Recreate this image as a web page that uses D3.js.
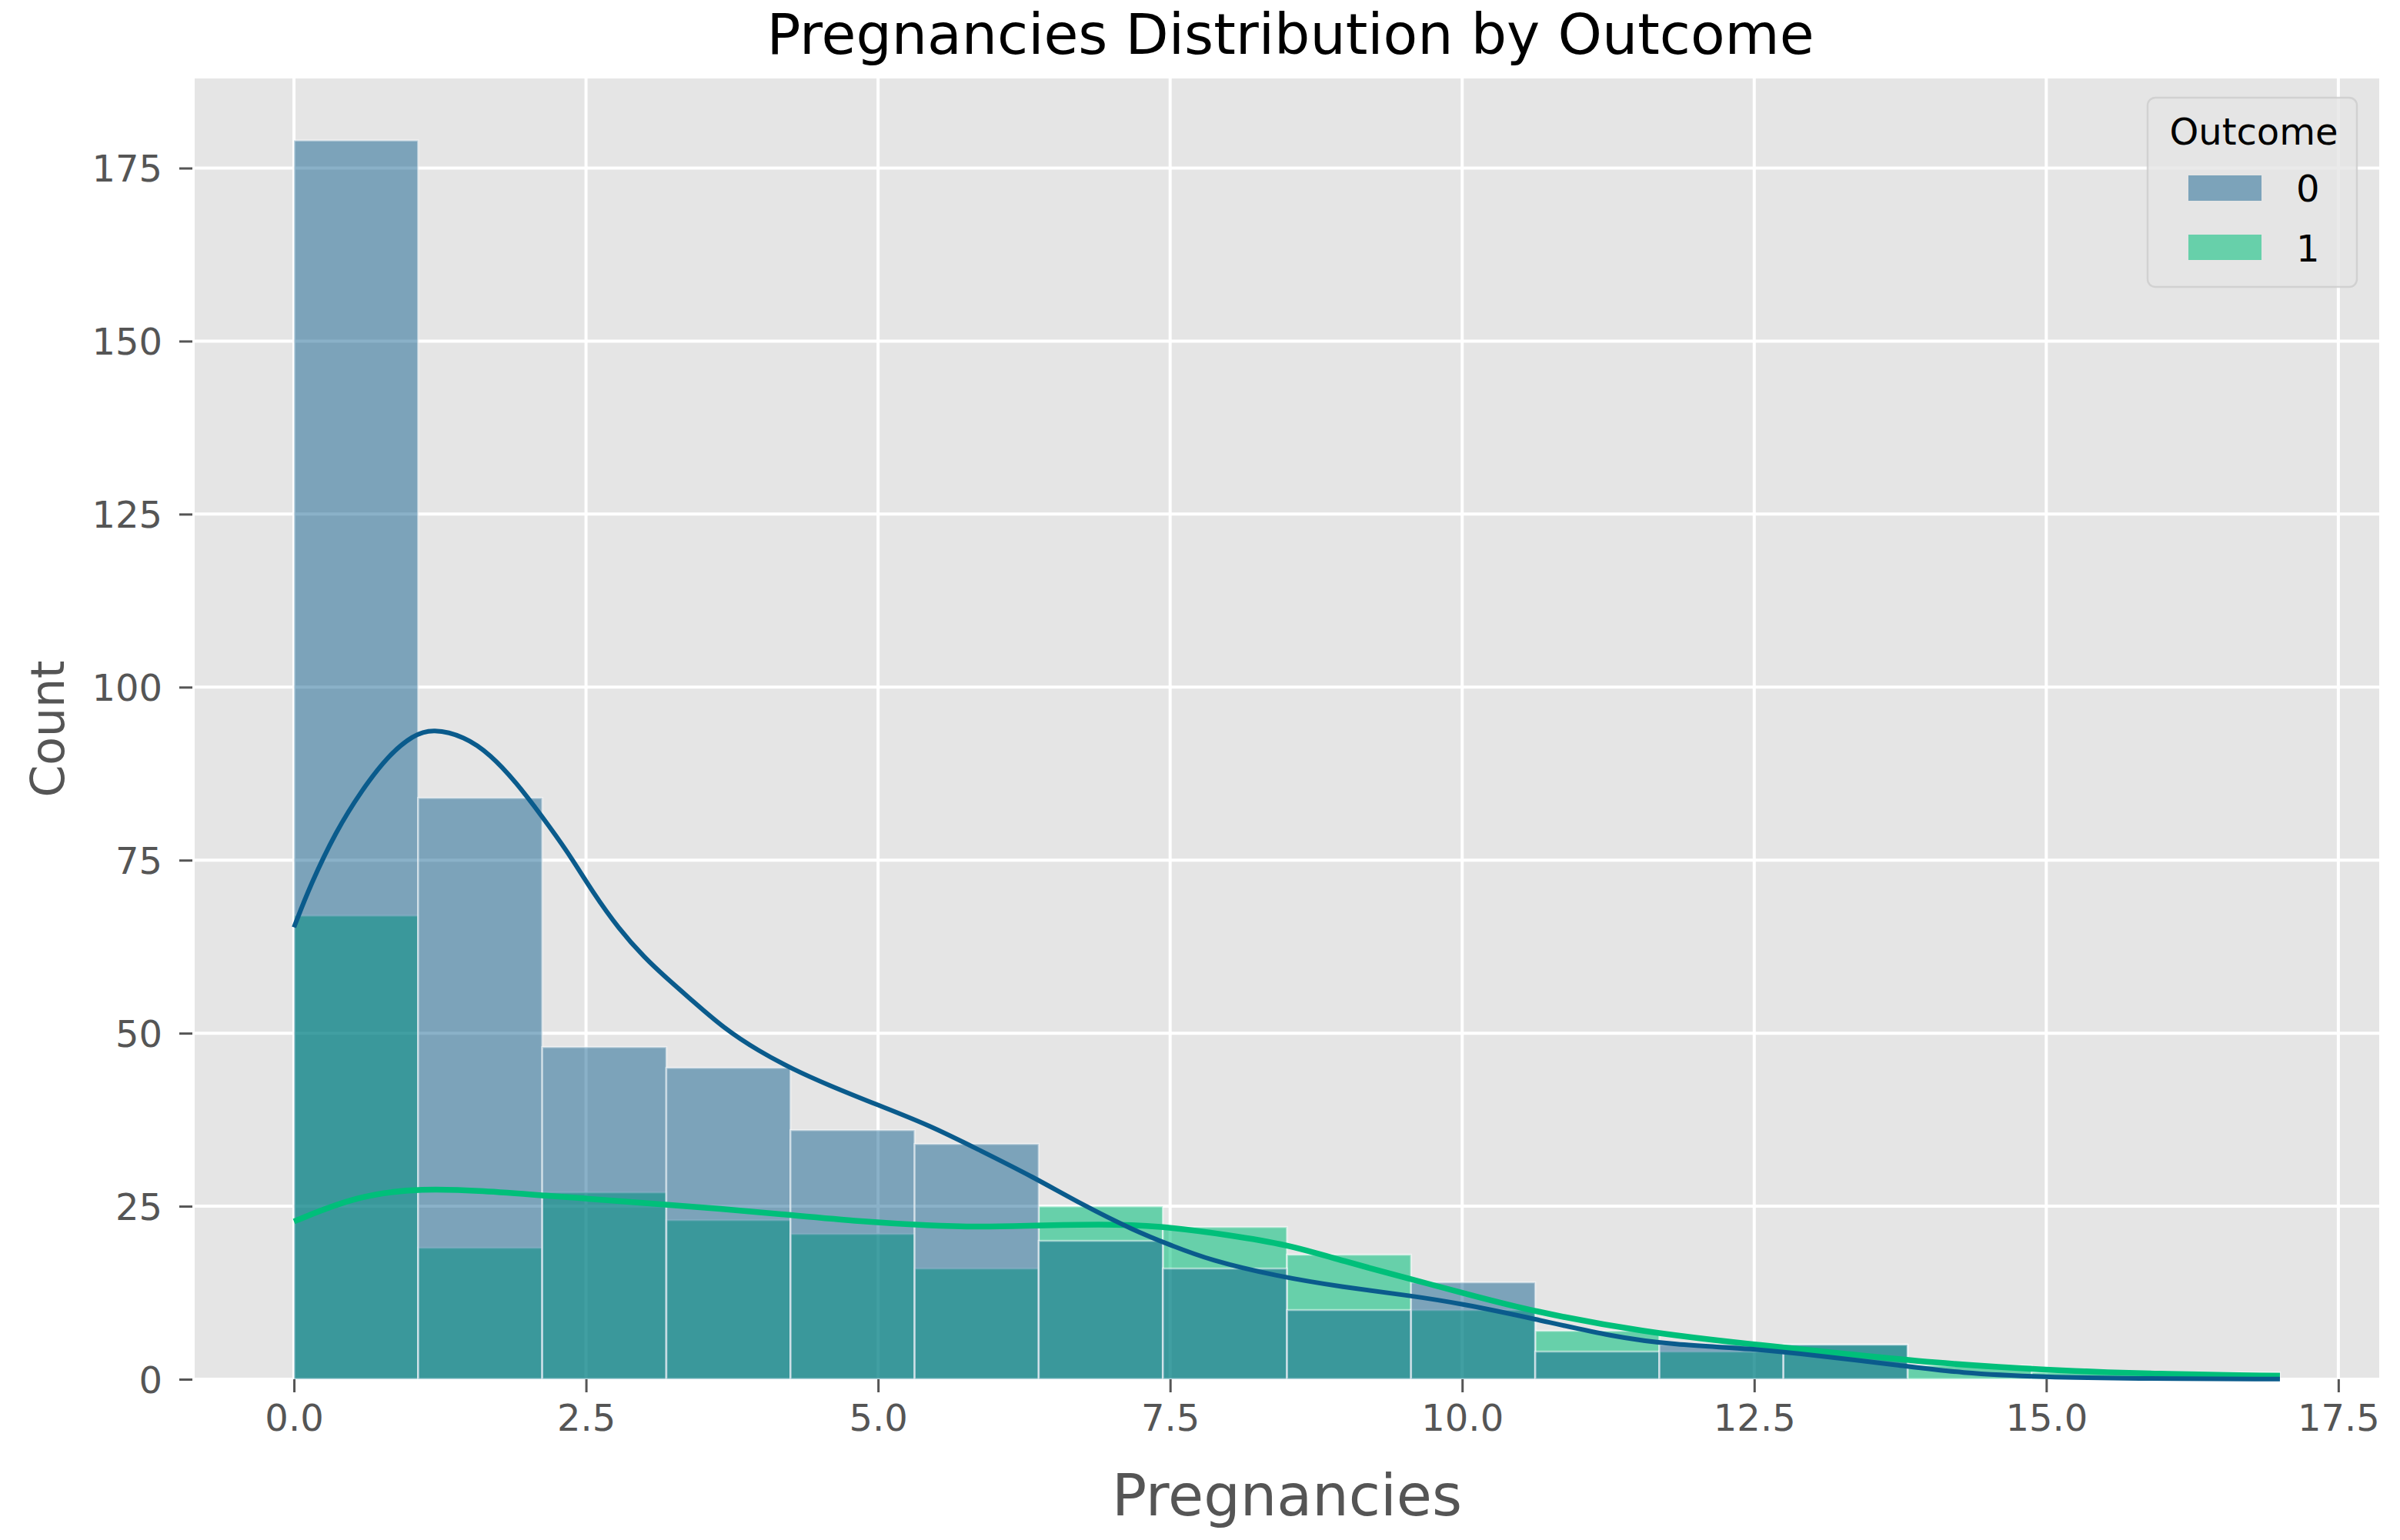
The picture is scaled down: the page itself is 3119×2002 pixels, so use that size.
<!DOCTYPE html>
<html>
<head>
<meta charset="utf-8">
<script src="https://cdn.jsdelivr.net/npm/d3@7"></script>
<style>
  body { margin: 0; background: #ffffff; }
  text { font-family: "DejaVu Sans", sans-serif; }
</style>
</head>
<body>
<svg id="chart" width="3119" height="2002"></svg>
<script>
// histogram bins (Pregnancies), shared by both outcomes
let binEdges = [0, 1.0625, 2.125, 3.1875, 4.25, 5.3125, 6.375, 7.4375, 8.5, 9.5625, 10.625, 11.6875, 12.75, 13.8125, 14.875, 15.9375, 17]
let counts0 = [179, 84, 48, 45, 36, 34, 20, 16, 10, 14, 4, 5, 5, 0, 0, 0]
let counts1 = [67, 19, 27, 23, 21, 16, 25, 22, 18, 10, 7, 4, 5, 2, 1, 1]

// kde curves
let kdeX0 = [0, 0.14, 0.36, 0.58, 0.8, 1.02, 1.19, 1.46, 1.68, 1.9, 2.12, 2.34, 2.56, 2.78, 3.0, 3.2, 3.39, 3.68, 3.98, 4.27, 4.56, 5.0, 5.44, 5.88, 6.32, 6.75, 7.19, 7.5, 7.84, 8.41, 8.98, 9.55, 10.0, 10.6, 11.3, 11.8, 12.5, 13.0, 13.76, 14.25, 15.0, 15.7, 17]
let kdeY0 = [65.3, 71.4, 79.2, 85.1, 90.0, 93.1, 94.0, 92.9, 90.3, 86.3, 81.4, 76.3, 70.3, 65.1, 60.9, 57.8, 55.0, 50.7, 47.4, 44.8, 42.6, 39.6, 36.7, 33.0, 29.3, 25.2, 21.5, 19.4, 17.2, 14.9, 13.3, 12.1, 10.9, 8.8, 6.1, 5.0, 4.4, 3.5, 2.0, 0.9, 0.3, 0.1, 0.02]
let kdeX1 = [0, 0.55, 1.1, 1.63, 2.1, 2.9, 3.68, 4.27, 4.85, 5.44, 5.88, 6.32, 6.9, 7.4, 8.02, 8.49, 8.98, 9.55, 10.0, 10.6, 11.55, 12.5, 13.27, 14.0, 15.0, 15.96, 17]
let kdeY1 = [22.8, 26.6, 27.6, 27.2, 26.6, 25.6, 24.6, 23.7, 22.8, 22.2, 22.0, 22.2, 22.4, 22.2, 20.8, 19.5, 17.1, 14.5, 12.5, 9.8, 6.8, 5.0, 3.7, 2.4, 1.3, 0.74, 0.5]

let xTicks = [0, 2.5, 5, 7.5, 10, 12.5, 15, 17.5]
let yTicks = [0, 25, 50, 75, 100, 125, 150, 175]
let outcomes = ["0", "1"]

let title = "Pregnancies Distribution by Outcome"
let xLabel = "Pregnancies"
let yLabel = "Count"

let color0 = "#0a5b8c", color1 = "#00bf7a"
let alpha0 = 0.48, alpha1 = 0.55

let plotLeft = 253, plotRight = 3092, plotTop = 102, plotBottom = 1793

let xScale = d3.scaleLinear().domain([-0.85, 17.85]).range([plotLeft, plotRight])
let yScale = d3.scaleLinear().domain([0, 187.95]).range([plotBottom, plotTop])

let svg = d3.select("#chart")

// panel background
svg.append("rect").attr("x", plotLeft).attr("y", plotTop)
    .attr("width", plotRight - plotLeft).attr("height", plotBottom - plotTop)
    .style("fill", "#e5e5e5")

// grid
let grid = svg.append("g")
grid.selectAll(".vg").data(xTicks).enter().append("line")
    .attr("x1", d => xScale(d)).attr("x2", d => xScale(d))
    .attr("y1", plotTop).attr("y2", plotBottom)
    .style("stroke", "#ffffff").style("stroke-width", 4)
grid.selectAll(".hg").data(yTicks).enter().append("line")
    .attr("x1", plotLeft).attr("x2", plotRight)
    .attr("y1", d => yScale(d)).attr("y2", d => yScale(d))
    .style("stroke", "#ffffff").style("stroke-width", 4)

// bars: outcome 1 first, outcome 0 on top
function drawBars(counts, color, alpha) {
    let bins = counts.map((n, i) => ({x0: binEdges[i], x1: binEdges[i + 1], n: n})).filter(d => d.n > 0)
    svg.append("g").selectAll("rect")
        .data(bins)
        .enter()
        .append("rect")
        .attr("x", d => xScale(d.x0))
        .attr("width", d => xScale(d.x1) - xScale(d.x0))
        .attr("y", d => yScale(d.n))
        .attr("height", d => yScale(0) - yScale(d.n))
        .style("fill", color).style("fill-opacity", alpha)
        .style("stroke", "#ffffff").style("stroke-opacity", alpha).style("stroke-width", 2.5)
}
drawBars(counts1, color1, alpha1)
drawBars(counts0, color0, alpha0)

// kde lines
let line = d3.line().x(d => xScale(d[0])).y(d => yScale(d[1])).curve(d3.curveBasis)
svg.append("path").datum(d3.zip(kdeX1, kdeY1)).attr("d", line)
    .style("fill", "none").style("stroke", color1).style("stroke-width", 7.5)
svg.append("path").datum(d3.zip(kdeX0, kdeY0)).attr("d", line)
    .style("fill", "none").style("stroke", color0).style("stroke-width", 6)

// axes
let xAxis = d3.axisBottom(xScale).tickValues(xTicks).tickFormat(d3.format(".1f")).tickSize(17).tickPadding(14)
let yAxis = d3.axisLeft(yScale).tickValues(yTicks).tickSize(17).tickPadding(22)

let gx = svg.append("g").attr("transform", `translate(0,${plotBottom})`).call(xAxis)
let gy = svg.append("g").attr("transform", `translate(${plotLeft - 3},0)`).call(yAxis)
for (let g of [gx, gy]) {
    g.select(".domain").remove()
    g.selectAll("line").style("stroke", "#555555").style("stroke-width", 3)
    g.selectAll("text").style("fill", "#555555").style("font-size", "48px")
        .style("font-family", "DejaVu Sans")
}
gx.selectAll("text").attr("dy", "0.76em")
gy.selectAll("text").attr("dy", "0.36em")

// labels
svg.append("text").attr("x", (plotLeft + plotRight) / 2).attr("y", 1970)
    .attr("text-anchor", "middle").style("font-size", "75px").style("fill", "#555555")
    .text(xLabel)
svg.append("g").attr("transform", `translate(83,${(plotTop + plotBottom) / 2}) rotate(270)`)
    .append("text").attr("text-anchor", "middle")
    .style("font-size", "60px").style("fill", "#555555")
    .text(yLabel)

// title
svg.append("text").attr("x", 1677).attr("y", 70)
    .attr("text-anchor", "middle").style("font-size", "73px").style("fill", "#000000")
    .text(title)

// legend
let legend = svg.append("g").attr("transform", "translate(2791,127)")
legend.append("rect").attr("width", 272).attr("height", 246).attr("rx", 10)
    .style("fill", "#e5e5e5").style("fill-opacity", 0.8)
    .style("stroke", "#cccccc").style("stroke-opacity", 0.8).style("stroke-width", 2.4)
legend.append("text").attr("x", 138).attr("y", 61).attr("text-anchor", "middle")
    .style("font-size", "48px").style("fill", "#000000").text("Outcome")
let swatch = [[color0, alpha0], [color1, alpha1]]
outcomes.forEach((o, i) => {
    legend.append("rect").attr("x", 53).attr("y", 101 + i * 77).attr("width", 95).attr("height", 33)
        .style("fill", swatch[i][0]).style("fill-opacity", swatch[i][1])
    legend.append("text").attr("x", 193).attr("y", 135 + i * 78)
        .style("font-size", "48px").style("fill", "#000000").text(o)
})
</script>
</body>
</html>
